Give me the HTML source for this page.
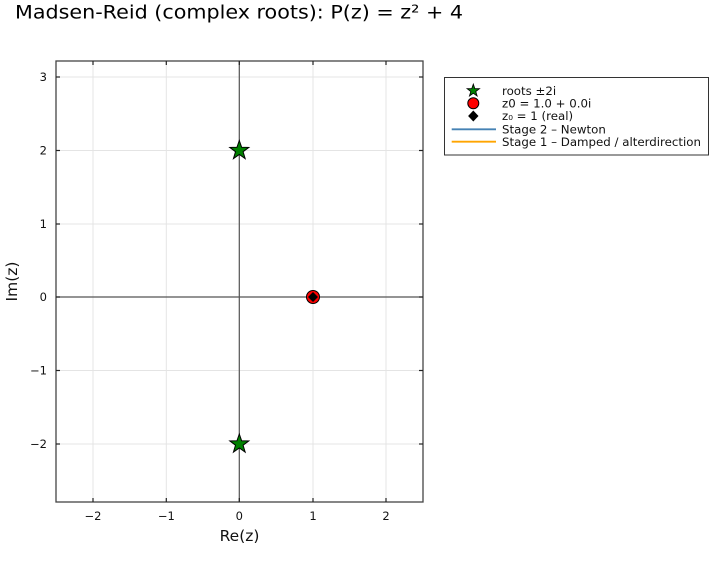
<!DOCTYPE html>
<html><head><meta charset="utf-8"><style>
html,body{margin:0;padding:0;background:#fff;}
svg{display:block;font-family:"DejaVu Sans","Liberation Sans",sans-serif;}
</style></head><body>
<svg width="720" height="580" viewBox="0 0 720 580" xmlns="http://www.w3.org/2000/svg">
<rect width="720" height="580" fill="#fff"/>
<text x="15" y="18.5" font-size="19" fill="#000" textLength="448" lengthAdjust="spacingAndGlyphs">Madsen-Reid (complex roots): P(z) = z² + 4</text>
<!-- grid -->
<g stroke="#e4e4e4" stroke-width="1">
<line x1="93" y1="61" x2="93" y2="502"/>
<line x1="166.3" y1="61" x2="166.3" y2="502"/>
<line x1="239.3" y1="61" x2="239.3" y2="502"/>
<line x1="313" y1="61" x2="313" y2="502"/>
<line x1="386" y1="61" x2="386" y2="502"/>
<line x1="56" y1="77" x2="423" y2="77"/>
<line x1="56" y1="150.5" x2="423" y2="150.5"/>
<line x1="56" y1="224" x2="423" y2="224"/>
<line x1="56" y1="297" x2="423" y2="297"/>
<line x1="56" y1="370.5" x2="423" y2="370.5"/>
<line x1="56" y1="444" x2="423" y2="444"/>
</g>
<!-- axes lines -->
<line x1="56" y1="297" x2="423" y2="297" stroke="#555" stroke-width="1.2"/>
<line x1="239.3" y1="61" x2="239.3" y2="502" stroke="#555" stroke-width="1.2"/>
<!-- frame -->
<rect x="56" y="61" width="367" height="441" fill="none" stroke="#444" stroke-width="1.3"/>
<!-- ticks -->
<g stroke="#222" stroke-width="1.2">
<line x1="93" y1="502" x2="93" y2="498"/><line x1="166.3" y1="502" x2="166.3" y2="498"/><line x1="239.3" y1="502" x2="239.3" y2="498"/><line x1="313" y1="502" x2="313" y2="498"/><line x1="386" y1="502" x2="386" y2="498"/>
<line x1="93" y1="61" x2="93" y2="65"/><line x1="166.3" y1="61" x2="166.3" y2="65"/><line x1="239.3" y1="61" x2="239.3" y2="65"/><line x1="313" y1="61" x2="313" y2="65"/><line x1="386" y1="61" x2="386" y2="65"/>
<line x1="56" y1="77" x2="60" y2="77"/><line x1="56" y1="150.5" x2="60" y2="150.5"/><line x1="56" y1="224" x2="60" y2="224"/><line x1="56" y1="297" x2="60" y2="297"/><line x1="56" y1="370.5" x2="60" y2="370.5"/><line x1="56" y1="444" x2="60" y2="444"/>
<line x1="423" y1="77" x2="419" y2="77"/><line x1="423" y1="150.5" x2="419" y2="150.5"/><line x1="423" y1="224" x2="419" y2="224"/><line x1="423" y1="297" x2="419" y2="297"/><line x1="423" y1="370.5" x2="419" y2="370.5"/><line x1="423" y1="444" x2="419" y2="444"/>
</g>
<!-- tick labels -->
<g font-size="11.5" fill="#111" text-anchor="middle">
<text x="93" y="520">−2</text><text x="166.3" y="520">−1</text><text x="239.3" y="520">0</text><text x="313" y="520">1</text><text x="386" y="520">2</text>
</g>
<g font-size="11.5" fill="#111" text-anchor="end">
<text x="47" y="81">3</text><text x="47" y="154.5">2</text><text x="47" y="228">1</text><text x="47" y="301">0</text><text x="47" y="374.5">−1</text><text x="47" y="448">−2</text>
</g>
<text x="239.5" y="541" font-size="15.5" text-anchor="middle" fill="#111">Re(z)</text>
<text transform="translate(17,281.5) rotate(-90)" font-size="15.5" text-anchor="middle" fill="#111">Im(z)</text>
<!-- markers -->
<defs>
<polygon id="star" points="0,-10 2.35,-3.24 9.51,-3.09 3.8,1.24 5.88,8.09 0,4 -5.88,8.09 -3.8,1.24 -9.51,-3.09 -2.35,-3.24"/>
</defs>
<use href="#star" x="239.3" y="150.5" fill="#008000" stroke="#000" stroke-width="1"/>
<use href="#star" x="239.3" y="444" fill="#008000" stroke="#000" stroke-width="1"/>
<circle cx="313" cy="297" r="6.5" fill="#ff0000" stroke="#000" stroke-width="1"/>
<polygon points="313,292 318,297 313,302 308,297" fill="#000"/>
<!-- legend -->
<rect x="444.5" y="77.5" width="264" height="77.5" fill="#fff" stroke="#333" stroke-width="1"/>
<g transform="translate(473.3,90.7) scale(0.65)"><use href="#star" fill="#008000" stroke="#000" stroke-width="1.3"/></g>
<circle cx="473.3" cy="103.3" r="5.5" fill="#ff0000" stroke="#000" stroke-width="1"/>
<polygon points="473.3,110.5 478.5,116 473.3,121.5 468.1,116" fill="#000"/>
<line x1="451.7" y1="129.3" x2="496" y2="129.3" stroke="#4682b4" stroke-width="1.8"/>
<line x1="451.7" y1="141.7" x2="496" y2="141.7" stroke="#ffa500" stroke-width="1.8"/>
<g font-size="11.8" fill="#111">
<text x="502" y="95">roots ±2i</text>
<text x="502" y="107.5">z0 = 1.0 + 0.0i</text>
<text x="502" y="120">z₀ = 1 (real)</text>
<text x="502" y="133.5">Stage 2 – Newton</text>
<text x="502" y="146" textLength="199" lengthAdjust="spacingAndGlyphs">Stage 1 – Damped / alterdirection</text>
</g>
</svg>
</body></html>
